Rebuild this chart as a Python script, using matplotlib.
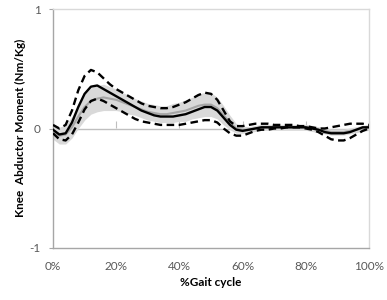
import matplotlib
matplotlib.use("Agg")
import matplotlib.pyplot as plt

plt.rcParams['font.family'] = ['Lato', 'DejaVu Sans']

gait_pct = [0, 2, 4, 6, 8, 10, 12, 14, 16, 18, 20, 22, 24, 26, 28, 30, 32, 34, 36, 38, 40,
            42, 44, 46, 48, 50, 52, 54, 56, 58, 60, 62, 64, 66, 68, 70, 72, 74, 76, 78, 80,
            82, 84, 86, 88, 90, 92, 94, 96, 98, 100]

mean_moment = [-0.01, -0.05, -0.04, 0.05, 0.18, 0.29, 0.35, 0.36, 0.33, 0.30, 0.27,
               0.24, 0.21, 0.18, 0.15, 0.13, 0.11, 0.10, 0.10, 0.10, 0.11,
               0.12, 0.14, 0.16, 0.18, 0.18, 0.15, 0.09, 0.03, -0.01, -0.02,
               -0.01, 0.00, 0.01, 0.01, 0.01, 0.01, 0.01, 0.01, 0.01, 0.01,
               0.00, -0.01, -0.03, -0.04, -0.04, -0.04, -0.03, -0.01, 0.01, 0.01]

upper_sd = [0.03, 0.00, 0.03, 0.15, 0.32, 0.44, 0.49, 0.47, 0.42, 0.37, 0.33,
            0.30, 0.27, 0.24, 0.21, 0.19, 0.18, 0.17, 0.17, 0.18, 0.20,
            0.22, 0.25, 0.28, 0.30, 0.29, 0.24, 0.15, 0.06, 0.02, 0.02,
            0.03, 0.04, 0.04, 0.04, 0.03, 0.03, 0.03, 0.03, 0.02, 0.02,
            0.01, 0.00, 0.00, 0.01, 0.02, 0.03, 0.04, 0.04, 0.04, 0.03]

lower_sd = [-0.04, -0.09, -0.10, -0.05, 0.05, 0.16, 0.23, 0.25, 0.23, 0.20, 0.17,
            0.14, 0.11, 0.08, 0.06, 0.05, 0.04, 0.03, 0.03, 0.03, 0.03,
            0.04, 0.05, 0.06, 0.07, 0.07, 0.05, 0.00, -0.04, -0.06, -0.06,
            -0.04, -0.02, -0.01, -0.01, 0.00, 0.00, 0.01, 0.01, 0.01, 0.00,
            -0.01, -0.03, -0.06, -0.09, -0.10, -0.10, -0.08, -0.05, -0.02, 0.00]

ref_mean = [-0.03, -0.06, -0.05, 0.01, 0.10, 0.18, 0.23, 0.25, 0.26, 0.25, 0.24,
            0.22, 0.20, 0.18, 0.16, 0.14, 0.13, 0.12, 0.12, 0.13, 0.14,
            0.15, 0.17, 0.19, 0.20, 0.20, 0.17, 0.11, 0.05, 0.00, -0.01,
            -0.01, 0.00, 0.01, 0.01, 0.01, 0.01, 0.01, 0.01, 0.01, 0.01,
            0.00, -0.01, -0.02, -0.03, -0.03, -0.03, -0.02, -0.01, 0.00, 0.01]

ref_upper = [0.03, 0.01, 0.03, 0.10, 0.20, 0.29, 0.34, 0.36, 0.37, 0.35, 0.33,
             0.30, 0.28, 0.25, 0.23, 0.21, 0.20, 0.19, 0.19, 0.21, 0.22,
             0.24, 0.26, 0.29, 0.30, 0.30, 0.26, 0.19, 0.11, 0.04, 0.02,
             0.015, 0.025, 0.035, 0.035, 0.035, 0.035, 0.035, 0.035, 0.035, 0.035,
             0.025, 0.015, 0.005, -0.005, -0.005, -0.005, 0.005, 0.015, 0.025, 0.035]

ref_lower = [-0.09, -0.13, -0.13, -0.08, 0.00, 0.07, 0.12, 0.14, 0.15, 0.15, 0.15,
             0.14, 0.12, 0.11, 0.09, 0.07, 0.06, 0.05, 0.05, 0.05, 0.06,
             0.06, 0.08, 0.09, 0.10, 0.10, 0.08, 0.03, -0.01, -0.04, -0.04,
             -0.035, -0.025, -0.015, -0.015, -0.015, -0.015, -0.015, -0.015, -0.015, -0.015,
             -0.025, -0.035, -0.045, -0.055, -0.055, -0.055, -0.045, -0.035, -0.025, -0.015]

x_ticks = [0, 20, 40, 60, 80, 100]
x_labels = ['0%', '20%', '40%', '60%', '80%', '100%']
y_ticks = [-1, 0, 1]
y_labels = ['-1', '0', '1']

fig = plt.figure(figsize=(3.87, 3.00), dpi=100)
ax = fig.add_axes([53/387, 1 - 248/300, (369-53)/387, (248-9)/300])

# zero line with tick marks (Excel-style horizontal axis crossing at 0)
ax.axhline(0, color='#bfbfbf', lw=1.0, zorder=0.5)
sec = ax.secondary_xaxis(0.5)
sec.set_xticks(x_ticks)
sec.set_xticklabels([])
sec.tick_params(axis='x', length=5, color='#bfbfbf', direction='out',
                labelbottom=False, labeltop=False)
for sp in sec.spines.values():
    sp.set_visible(False)

ax.fill_between(gait_pct, ref_lower, ref_upper, color='#d9d9d9', lw=0, zorder=1)
ax.plot(gait_pct, ref_mean, color='#a6a6a6', lw=1.5, zorder=2)
ax.plot(gait_pct, upper_sd, color='black', lw=1.7, ls=(0, (3.2, 1.9)), zorder=3)
ax.plot(gait_pct, lower_sd, color='black', lw=1.7, ls=(0, (3.2, 1.9)), zorder=3)
ax.plot(gait_pct, mean_moment, color='black', lw=1.7, zorder=4)

ax.set_xlim(0, 100)
ax.set_ylim(-1, 1)
ax.set_xticks(x_ticks)
ax.set_xticklabels(x_labels)
ax.set_yticks(y_ticks)
ax.set_yticklabels(y_labels)
ax.tick_params(axis='x', length=0, pad=9, labelsize=8.5, labelcolor='#595959')
ax.tick_params(axis='y', length=3, color='#a6a6a6', pad=6, labelsize=8.5, labelcolor='#595959')

for side in ['top', 'right']:
    ax.spines[side].set_color('#d9d9d9')
    ax.spines[side].set_linewidth(1.0)
for side in ['left', 'bottom']:
    ax.spines[side].set_color('#a6a6a6')
    ax.spines[side].set_linewidth(1.0)

fig.text(211/387, 1 - 283/300, '%Gait cycle', ha='center', va='center',
         fontsize=8.5, fontweight='bold')
fig.text(20/387, 1 - 128/300, 'Knee  Abductor Moment (Nm/Kg)', ha='center', va='center',
         rotation=90, fontsize=8.5, fontweight='bold')

fig.savefig('out.png', dpi=100)
